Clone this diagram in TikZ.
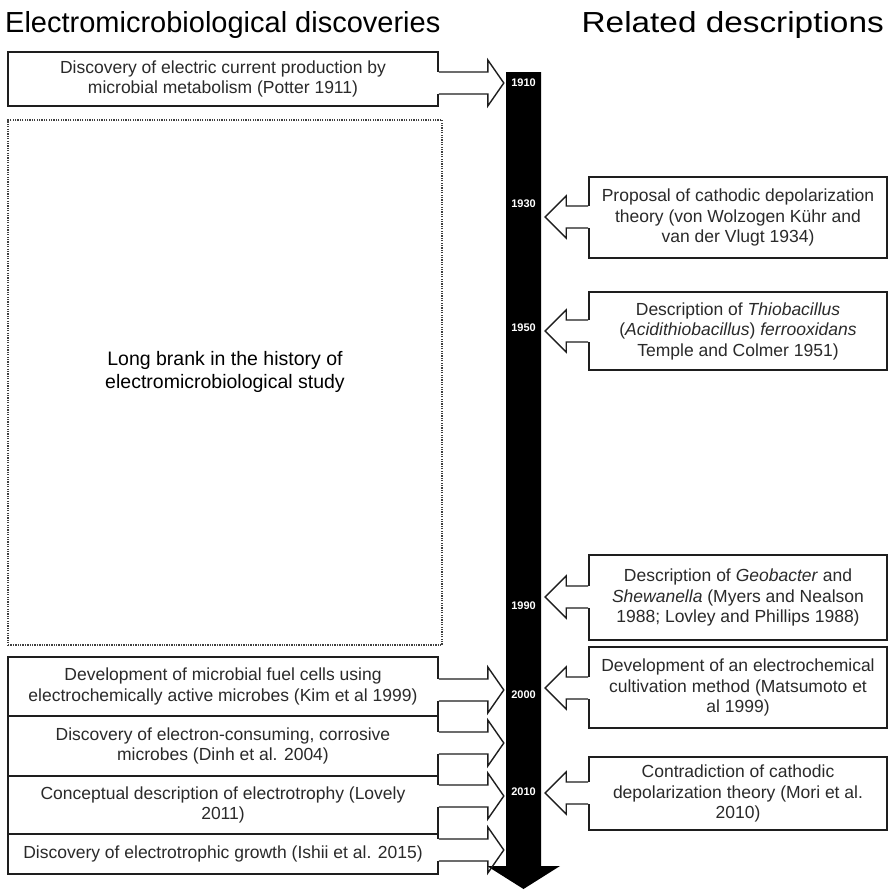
\documentclass[tikz,border=0pt]{standalone}
\usepackage{fontspec}
\setmainfont{Liberation Sans}
\definecolor{boxc}{HTML}{1E1E1E}
\definecolor{textc}{HTML}{2A2A2A}
\newcommand{\arrToBarR}[4]{% right-pointing arrow from east side of box #1 at height #2; base offset #3, tip offset #4
  \coordinate (yref) at (0,#2);
  \begin{scope}[shift={(#1.east |- yref)}]
    \fill[white] (-2,-11) rectangle (1,11);
    \draw[arrowline] (0,-11) -- (#3,-11) -- (#3,-23) -- (#4,0) -- (#3,23) -- (#3,11) -- (0,11);
  \end{scope}}
\newcommand{\arrToBarL}[4]{% left-pointing arrow from west side of box #1 at height #2
  \coordinate (yref) at (0,#2);
  \begin{scope}[shift={(#1.west |- yref)}]
    \fill[white] (2,-11) rectangle (-1,11);
    \draw[arrowline] (0,-11) -- (-#3,-11) -- (-#3,-21) -- (-#4,0) -- (-#3,21) -- (-#3,11) -- (0,11);
  \end{scope}}
\begin{document}
\begin{tikzpicture}[x=1pt,y=-1pt,
  box/.style={draw=boxc, line width=1.6pt, fill=white, align=center, inner sep=0pt, text=textc, font=\fontsize{17.5}{20.5}\selectfont},
  lbox/.style={box, minimum width=430pt},
  rbox/.style={box, minimum width=298pt},
  arrowline/.style={draw=boxc, line width=1.4pt, line join=miter},
  year/.style={text=white, font=\bfseries\fontsize{11}{11}\selectfont, inner sep=0pt},
  title/.style={font=\fontsize{29}{30}\selectfont, inner sep=0pt}
]
\useasboundingbox (0,0) rectangle (889,891);
\fill[white] (0,0) rectangle (889,891);

% titles
\node[title, anchor=base west] (t1) at (5,33) {Electromicrobiological discoveries};
\node[title, anchor=base east] (t2) at (884,33) {\scalebox{1.15}[1]{Related descriptions}};

% timeline bar
\fill[black] (506,72) -- (541,72) -- (541,866) -- (560,866) -- (523.5,889) -- (487,866) -- (506,866) -- cycle;
\coordinate (bar) at (523.5,72);

% years
\node[year] (y1910) at (523.5,83) {1910};
\node[year] (y1930) at (523.5,204) {1930};
\node[year] (y1950) at (523.5,328) {1950};
\node[year] (y1990) at (523.5,606) {1990};
\node[year] (y2000) at (523.5,695) {2000};
\node[year] (y2010) at (523.5,792) {2010};

% left boxes
\node[lbox, minimum height=54pt] (L1) at (223,79) {Discovery of electric current production by\\microbial metabolism (Potter 1911)};
\node[draw=black!75, line width=1.1pt, dash pattern=on 1.3pt off 1.1pt, minimum width=434pt, minimum height=525pt, inner sep=0pt] (blank) at (225,382.5) {};
\node[align=center, inner sep=0pt, font=\fontsize{19.5}{22.5}\selectfont] (blanktext) at (225,372) {Long brank in the history of\\electromicrobiological study};
\node[lbox, minimum height=59pt] (L2) at (223,686.5) {Development of microbial fuel cells using\\electrochemically active microbes (Kim et al 1999)};
\node[lbox, minimum height=60pt] (L3) at (223,746) {Discovery of electron-consuming, corrosive\\microbes (Dinh et al. 2004)};
\node[lbox, minimum height=58pt] (L4) at (223,805) {Conceptual description of electrotrophy (Lovely\\2011)};
\node[lbox, minimum height=40pt] (L5) at (223,854) {Discovery of electrotrophic growth (Ishii et al. 2015)};

\arrToBarR{L1}{83}{49}{65}
\arrToBarR{L2}{690}{49}{65}
\arrToBarR{L3}{743}{49}{65}
\arrToBarR{L4}{796}{49}{65}
\arrToBarR{L5}{850}{49}{65}

% right boxes
\node[rbox, minimum height=81pt] (R1) at (738,217.5) {Proposal of cathodic depolarization\\theory (von Wolzogen Kühr and\\van der Vlugt 1934)};
\node[rbox, minimum height=78pt] (R2) at (738,331) {Description of \textit{Thiobacillus}\\(\textit{Acidithiobacillus}) \textit{ferrooxidans}\\Temple and Colmer 1951)};
\node[rbox, minimum height=85pt] (R3) at (738,597.5) {Description of \textit{Geobacter} and\\\textit{Shewanella} (Myers and Nealson\\1988; Lovley and Phillips 1988)};
\node[rbox, minimum height=81pt] (R4) at (738,687.5) {Development of an electrochemical\\cultivation method (Matsumoto et\\al 1999)};
\node[rbox, minimum height=73pt] (R5) at (738,793.5) {Contradiction of cathodic\\depolarization theory (Mori et al.\\2010)};

\arrToBarL{R1}{217}{22}{43}
\arrToBarL{R2}{331}{22}{43}
\arrToBarL{R3}{597}{22}{43}
\arrToBarL{R4}{688}{22}{43}
\arrToBarL{R5}{793}{22}{43}
\end{tikzpicture}
\end{document}
